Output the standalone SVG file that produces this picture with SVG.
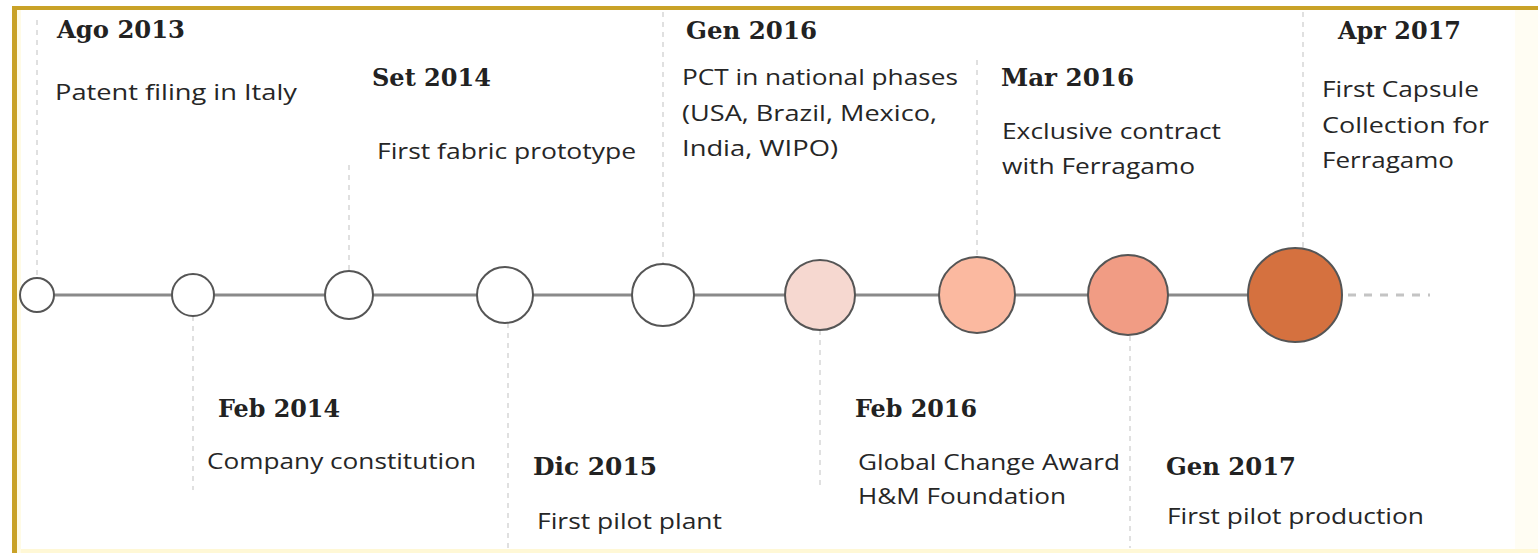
<svg xmlns="http://www.w3.org/2000/svg" width="1538" height="553" viewBox="0 0 1538 553">
<style>
.hd{font-family:"DejaVu Serif","Liberation Serif",serif;font-weight:bold;font-size:25px;fill:#222}
.bd{font-family:"Open Sans","Noto Sans","Liberation Sans",sans-serif;font-size:21px;fill:#262626}
.guide{stroke:#e0e0e0;stroke-width:2;stroke-dasharray:5 5;fill:none}
.node{stroke:#555;stroke-width:2}
.link{stroke:#8a8a8a;stroke-width:3}
</style>
<rect x="0" y="0" width="1538" height="553" fill="#ffffff"/>
<rect x="1515" y="10" width="23" height="543" fill="#fffdf3"/>
<rect x="17" y="549" width="1521" height="4" fill="#fff8d6"/>
<rect x="17" y="10" width="4" height="543" fill="#fffbe6"/>
<rect x="12" y="6" width="1526" height="4" fill="#c9a227"/>
<rect x="12" y="6" width="5" height="547" fill="#c9a227"/>

<g id="guides">
<line class="guide" x1="37" y1="20" x2="37" y2="278"/>
<line class="guide" x1="349" y1="165" x2="349" y2="271"/>
<line class="guide" x1="663" y1="12" x2="663" y2="264"/>
<line class="guide" x1="977" y1="60" x2="977" y2="257"/>
<line class="guide" x1="1303" y1="12" x2="1303" y2="248"/>
<line class="guide" x1="193" y1="316" x2="193" y2="490"/>
<line class="guide" x1="508" y1="323" x2="508" y2="548"/>
<line class="guide" x1="820" y1="330" x2="820" y2="490"/>
<line class="guide" x1="1130" y1="336" x2="1130" y2="548"/>
</g>

<g id="connectors">
<line class="link" x1="54" y1="295" x2="172" y2="295"/>
<line class="link" x1="214" y1="295" x2="325" y2="295"/>
<line class="link" x1="373" y1="295" x2="477" y2="295"/>
<line class="link" x1="533" y1="295" x2="632" y2="295"/>
<line class="link" x1="694" y1="295" x2="785" y2="295"/>
<line class="link" x1="855" y1="295" x2="939" y2="295"/>
<line class="link" x1="1015" y1="295" x2="1088" y2="295"/>
<line class="link" x1="1168" y1="295" x2="1248" y2="295"/>
<line x1="1348" y1="295" x2="1430" y2="295" stroke="#c4c4c4" stroke-width="3" stroke-dasharray="8 8"/>
</g>

<g id="n1">
<circle class="node" cx="37" cy="295" r="17" fill="#fff"/>
<text class="hd" x="57" y="38" textLength="128" lengthAdjust="spacingAndGlyphs">Ago 2013</text>
<text class="bd" x="55" y="100" textLength="242" lengthAdjust="spacingAndGlyphs">Patent filing in Italy</text>
</g>
<g id="n2">
<circle class="node" cx="193" cy="295" r="21" fill="#fff"/>
<text class="hd" x="218" y="417" textLength="122" lengthAdjust="spacingAndGlyphs">Feb 2014</text>
<text class="bd" x="207" y="469" textLength="269" lengthAdjust="spacingAndGlyphs">Company constitution</text>
</g>
<g id="n3">
<circle class="node" cx="349" cy="295" r="24" fill="#fff"/>
<text class="hd" x="372" y="86" textLength="119" lengthAdjust="spacingAndGlyphs">Set 2014</text>
<text class="bd" x="377" y="159" textLength="259" lengthAdjust="spacingAndGlyphs">First fabric prototype</text>
</g>
<g id="n4">
<circle class="node" cx="505" cy="295" r="28" fill="#fff"/>
<text class="hd" x="533" y="475" textLength="124" lengthAdjust="spacingAndGlyphs">Dic 2015</text>
<text class="bd" x="537" y="529" textLength="185" lengthAdjust="spacingAndGlyphs">First pilot plant</text>
</g>
<g id="n5">
<circle class="node" cx="663" cy="295" r="31" fill="#fff"/>
<text class="hd" x="686" y="39" textLength="131" lengthAdjust="spacingAndGlyphs">Gen 2016</text>
<text class="bd" x="682" y="85" textLength="276" lengthAdjust="spacingAndGlyphs">PCT in national phases</text>
<text class="bd" x="682" y="121" textLength="255" lengthAdjust="spacingAndGlyphs">(USA, Brazil, Mexico,</text>
<text class="bd" x="682" y="156" textLength="156" lengthAdjust="spacingAndGlyphs">India, WIPO)</text>
</g>
<g id="n6">
<circle class="node" cx="820" cy="295" r="35" fill="#f6d8d0"/>
<text class="hd" x="855" y="417" textLength="122" lengthAdjust="spacingAndGlyphs">Feb 2016</text>
<text class="bd" x="858" y="470" textLength="262" lengthAdjust="spacingAndGlyphs">Global Change Award</text>
<text class="bd" x="858" y="504" textLength="208" lengthAdjust="spacingAndGlyphs">H&amp;M Foundation</text>
</g>
<g id="n7">
<circle class="node" cx="977" cy="295" r="38" fill="#fbb9a0"/>
<text class="hd" x="1001" y="86" textLength="133" lengthAdjust="spacingAndGlyphs">Mar 2016</text>
<text class="bd" x="1002" y="139" textLength="219" lengthAdjust="spacingAndGlyphs">Exclusive contract</text>
<text class="bd" x="1002" y="174" textLength="193" lengthAdjust="spacingAndGlyphs">with Ferragamo</text>
</g>
<g id="n8">
<circle class="node" cx="1128" cy="295" r="40" fill="#f19c84"/>
<text class="hd" x="1166" y="475" textLength="130" lengthAdjust="spacingAndGlyphs">Gen 2017</text>
<text class="bd" x="1167" y="524" textLength="257" lengthAdjust="spacingAndGlyphs">First pilot production</text>
</g>
<g id="n9">
<circle class="node" cx="1295" cy="295" r="47" fill="#d5713f"/>
<text class="hd" x="1338" y="39" textLength="123" lengthAdjust="spacingAndGlyphs">Apr 2017</text>
<text class="bd" x="1322" y="97" textLength="157" lengthAdjust="spacingAndGlyphs">First Capsule</text>
<text class="bd" x="1322" y="133" textLength="167" lengthAdjust="spacingAndGlyphs">Collection for</text>
<text class="bd" x="1322" y="168" textLength="132" lengthAdjust="spacingAndGlyphs">Ferragamo</text>
</g>
</svg>
